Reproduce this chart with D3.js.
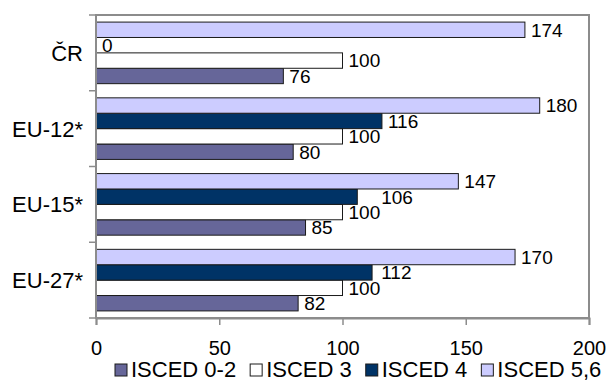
<!DOCTYPE html>
<html>
<head>
<meta charset="utf-8">
<script src="https://cdn.jsdelivr.net/npm/d3@7"></script>
<style>
  html, body { margin: 0; padding: 0; background: #fff; }
  svg { display: block; font-family: "Liberation Sans", Arial, sans-serif; }
</style>
</head>
<body>
<svg id="chart" width="608" height="382"></svg>
<script>
// Regions, top to bottom
const categories = ["ČR", "EU-12*", "EU-15*", "EU-27*"];

// Series (legend order)
const seriesNames = ["ISCED 0-2", "ISCED 3", "ISCED 4", "ISCED 5,6"];
const isced02 = [76, 80, 85, 82];
const isced3  = [100, 100, 100, 100];
const isced4  = [0, 116, 106, 112];
const isced56 = [174, 180, 147, 170];

const xTicks = [0, 50, 100, 150, 200];

const colors = {
  "ISCED 0-2": "#666699",
  "ISCED 3":   "#ffffff",
  "ISCED 4":   "#003366",
  "ISCED 5,6": "#ccccff"
};

const seriesValues = {
  "ISCED 0-2": isced02,
  "ISCED 3":   isced3,
  "ISCED 4":   isced4,
  "ISCED 5,6": isced56
};

// Within each group the highest level sits on top
const stackOrder = seriesNames.slice().reverse();

const rows = [];
categories.forEach((c, i) => {
  seriesNames.forEach(s => rows.push({ category: c, series: s, value: seriesValues[s][i] }));
});

const FONT = "'Liberation Sans', Arial, sans-serif";
const svg = d3.select("#chart");
const plot = { left: 96, right: 589, top: 15, bottom: 318 };

const x = d3.scaleLinear().domain([0, 200]).range([plot.left, plot.right]);
const y = d3.scaleBand().domain(categories).range([plot.top, plot.bottom]).padding(0);
const ys = d3.scaleBand().domain(stackOrder).range([0, y.bandwidth()])
  .paddingInner(0).paddingOuter(0.46);

// Plot frame
svg.append("rect")
  .attr("x", plot.left).attr("y", plot.top)
  .attr("width", plot.right - plot.left).attr("height", plot.bottom - plot.top)
  .attr("fill", "none").attr("stroke", "#8c8c8c").attr("stroke-width", 2);

// Bars
svg.append("g").selectAll("rect")
  .data(rows.filter(d => d.value > 0))
  .join("rect")
  .attr("x", x(0))
  .attr("y", d => y(d.category) + ys(d.series))
  .attr("width", d => x(d.value) - x(0))
  .attr("height", ys.bandwidth())
  .attr("fill", d => colors[d.series])
  .attr("stroke", "#1a1a1a")
  .attr("stroke-width", 1);

// Value labels: placed just past the bar end, pushed right when they
// would collide with the label of the bar directly below.
const labels = svg.append("g").selectAll("text")
  .data(rows)
  .join("text")
  .attr("x", d => x(d.value) + 6)
  .attr("y", d => y(d.category) + ys(d.series) + ys.bandwidth() / 2)
  .attr("dy", "0.36em")
  .attr("font-size", 19)
  .attr("fill", "#000")
  .text(d => d.value);

categories.forEach(c => {
  // bottom bar first, then upward
  const inGroup = labels.filter(d => d.category === c).nodes()
    .sort((a, b) => stackOrder.indexOf(d3.select(b).datum().series) - stackOrder.indexOf(d3.select(a).datum().series));
  for (let i = 1; i < inGroup.length; i++) {
    const prev = inGroup[i - 1].getBBox();
    const cur = inGroup[i].getBBox();
    const vOverlap = cur.y + cur.height - 4 > prev.y && cur.y < prev.y + prev.height - 4;
    const hOverlap = cur.x < prev.x + prev.width && cur.x + cur.width > prev.x;
    if (vOverlap && hOverlap) {
      d3.select(inGroup[i]).attr("x", prev.x + prev.width + 1);
    }
  }
});

// Category axis
const yAxis = svg.append("g")
  .attr("transform", `translate(${plot.left},0)`);
yAxis.append("line")
  .attr("x1", 0).attr("x2", 0).attr("y1", plot.top).attr("y2", plot.bottom)
  .attr("stroke", "#8c8c8c").attr("stroke-width", 2);
yAxis.selectAll("line.tick")
  .data(categories.map(c => y(c)).concat([plot.bottom]))
  .join("line").attr("class", "tick")
  .attr("x1", -7).attr("x2", 0)
  .attr("y1", d => d).attr("y2", d => d)
  .attr("stroke", "#8c8c8c").attr("stroke-width", 1.5);
yAxis.selectAll("text")
  .data(categories)
  .join("text")
  .attr("x", -13)
  .attr("y", d => y(d) + y.bandwidth() / 2)
  .attr("dy", "0.36em")
  .attr("text-anchor", "end")
  .attr("font-size", 22)
  .text(d => d);

// Value axis
const xAxis = svg.append("g")
  .attr("transform", `translate(0,${plot.bottom})`)
  .call(d3.axisBottom(x).tickValues(xTicks).tickSize(7).tickPadding(16).tickFormat(d3.format("d")));
xAxis.select(".domain")
  .attr("stroke", "#8c8c8c").attr("stroke-width", 2);
xAxis.selectAll(".tick line").attr("stroke", "#8c8c8c").attr("stroke-width", 1.5);
xAxis.selectAll(".tick text")
  .attr("font-size", 20)
  .attr("font-family", FONT)
  .attr("fill", "#000");

// Legend
const legend = svg.append("g").attr("transform", "translate(115,377)");
let cursor = 0;
seriesNames.forEach(s => {
  const item = legend.append("g").attr("transform", `translate(${cursor},0)`);
  item.append("rect")
    .attr("x", 0).attr("y", -13).attr("width", 12).attr("height", 12)
    .attr("fill", colors[s]).attr("stroke", "#1a1a1a").attr("stroke-width", 1);
  const t = item.append("text")
    .attr("x", 16).attr("y", 0)
    .attr("font-size", 22)
    .text(s);
  cursor += 16 + t.node().getComputedTextLength() + 14;
});
</script>
</body>
</html>
